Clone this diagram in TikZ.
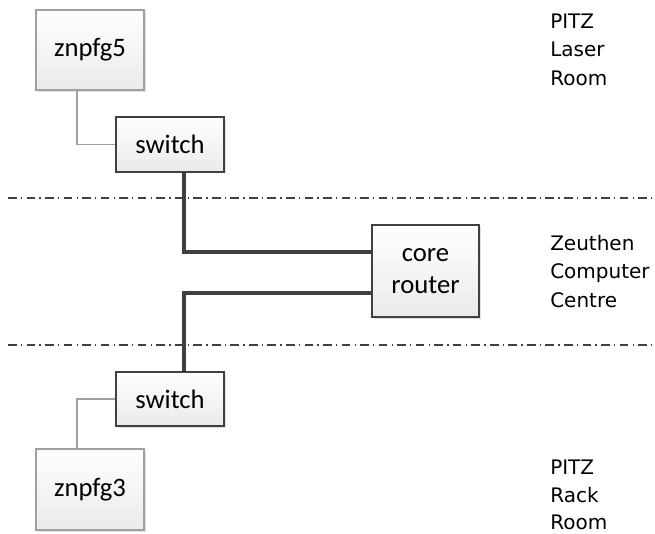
\documentclass[tikz,border=0pt]{standalone}
\usepackage{fontspec}
\setmainfont{Carlito}
\newfontfamily\lblfont{DejaVu Sans}
\usetikzlibrary{calc,shadows}
\definecolor{thinc}{HTML}{A0A0A0}
\definecolor{darkc}{HTML}{404040}
\tikzset{
  hostbox/.style={draw=thinc, line width=0.9pt, top color=white, bottom color=black!8,
     minimum width=81pt, minimum height=60pt, inner sep=0pt,
     font=\fontsize{20}{22}\selectfont,
     drop shadow={shadow xshift=1.2pt, shadow yshift=-1.2pt, fill=black!25, opacity=0.5}},
  netbox/.style={draw=darkc, line width=1.6pt, top color=white, bottom color=black!8,
     minimum width=81pt, inner sep=0pt, align=center,
     font=\fontsize{20}{24}\selectfont,
     drop shadow={shadow xshift=1.2pt, shadow yshift=-1.2pt, fill=black!25, opacity=0.5}},
  thinlink/.style={draw=thinc, line width=0.8pt},
  thicklink/.style={draw=darkc, line width=2.4pt},
  zoneline/.style={draw=darkc, line width=1.1pt, dash pattern=on 6.5pt off 3.2pt on 1pt off 3.2pt},
  zonelbl/.style={anchor=base west, inner sep=0pt, font=\lblfont\fontsize{15}{18}\selectfont}
}
\begin{document}
\begin{tikzpicture}[x=0.75pt, y=-0.75pt]
\useasboundingbox (0,0) rectangle (655,533);
% zone lines
\coordinate (z1a) at (8,198);
\coordinate (z1b) at (655,198);
\coordinate (z2a) at (8,345);
\coordinate (z2b) at (655,345);
\draw[zoneline] (z1a) -- (z1b);
\draw[zoneline] (z2a) -- (z2b);
% nodes
\node[hostbox] (h5) at (90,50) {znpfg5};
\node[netbox, minimum height=41pt] (sw1) at (170,144.5) {switch};
\node[netbox, minimum height=69pt, minimum width=80.25pt] (core) at (425.5,271) {core\\router};
\node[netbox, minimum height=40.5pt] (sw2) at (170,399) {switch};
\node[hostbox, minimum height=60.75pt] (h3) at (90,489.5) {znpfg3};
% links
\draw[thinlink] ($(h5.south)+(-13,0)$) |- (sw1.west);
\draw[thinlink] (sw2.west) -| ($(h3.north)+(-13,0)$);
\draw[thicklink] ($(sw1.south)+(14,0)$) |- ($(core.west)+(0,-19)$);
\draw[thicklink] ($(core.west)+(0,22)$) -| ($(sw2.north)+(14,0)$);
% zone labels
\node[zonelbl] (l1a) at (550,28) {PITZ};
\node[zonelbl] (l1b) at (550,56.5) {Laser};
\node[zonelbl] (l1c) at (550,85) {Room};
\node[zonelbl] (l2a) at (550,250) {Zeuthen};
\node[zonelbl] (l2b) at (550,278.5) {Computer};
\node[zonelbl] (l2c) at (550,307) {Centre};
\node[zonelbl] (l3a) at (550,474) {PITZ};
\node[zonelbl] (l3b) at (550,502) {Rack};
\node[zonelbl] (l3c) at (550,529) {Room};
\end{tikzpicture}
\end{document}
